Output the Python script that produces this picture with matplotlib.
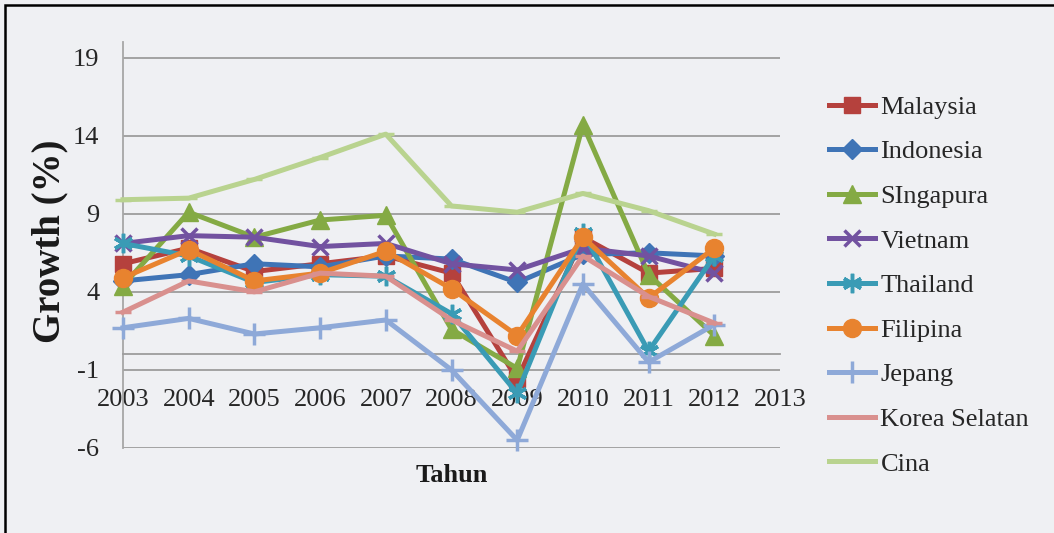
import matplotlib
matplotlib.use("Agg")
import matplotlib.pyplot as plt
import matplotlib.patches as mpatches

plt.rcParams['axes.unicode_minus'] = False

# data
years = [2003, 2004, 2005, 2006, 2007, 2008, 2009, 2010, 2011, 2012]
malaysia  = [5.8, 6.8, 5.3, 5.8, 6.3, 5.2, -1.6, 7.5, 5.2, 5.5]
indonesia = [4.7, 5.1, 5.8, 5.6, 6.3, 6.1, 4.6, 6.4, 6.5, 6.3]
singapura = [4.4, 9.1, 7.5, 8.6, 8.9, 1.6, -0.9, 14.7, 5.1, 1.2]
vietnam   = [7.1, 7.6, 7.5, 6.9, 7.1, 5.8, 5.4, 6.8, 6.3, 5.2]
thailand  = [7.1, 6.3, 4.6, 5.1, 5.0, 2.6, -2.5, 7.8, 0.2, 6.3]
filipina  = [4.9, 6.7, 4.7, 5.2, 6.6, 4.2, 1.2, 7.5, 3.6, 6.8]
jepang    = [1.7, 2.3, 1.3, 1.7, 2.2, -1.0, -5.5, 4.5, -0.5, 1.9]
korea     = [2.7, 4.7, 4.0, 5.2, 5.0, 2.2, 0.2, 6.3, 3.7, 2.0]
cina      = [9.9, 10.0, 11.2, 12.6, 14.1, 9.5, 9.1, 10.3, 9.2, 7.7]

xticks = [2003, 2004, 2005, 2006, 2007, 2008, 2009, 2010, 2011, 2012, 2013]
yticks = [-6, -1, 4, 9, 14, 19]

bg = '#EFF0F3'
serif = ['Liberation Serif', 'DejaVu Serif']

series = [
    ('Malaysia', malaysia, '#B5413D', 's', 11),
    ('Indonesia', indonesia, '#3F74B6', 'D', 10),
    ('SIngapura', singapura, '#84AA44', '^', 13),
    ('Vietnam', vietnam, '#7252A0', 'x', 12),
    ('Thailand', thailand, '#3A9BB5', (6, 2, 0), 14),
    ('Filipina', filipina, '#E8832F', 'o', 13),
    ('Jepang', jepang, '#8EA9D8', '+', 16),
    ('Korea Selatan', korea, '#D9908E', '_', 11),
    ('Cina', cina, '#B9D38F', '_', 11),
]

fig = plt.figure(figsize=(10.54, 5.33), dpi=100, facecolor=bg)
ax = fig.add_axes([123 / 1054, 1 - 448 / 533, (780 - 123) / 1054, (448 - 42) / 533])
ax.set_facecolor(bg)

for i, (name, vals, col, mk, ms) in enumerate(series):
    ax.plot(years, vals, color=col, lw=3.6, marker=mk, markersize=ms,
            markeredgewidth=2.5 if mk in ('x', '+', '_', (6, 2, 0)) else 1,
            markerfacecolor=col, markeredgecolor=col, label=name,
            zorder=3 + i, clip_on=False)

ax.set_xlim(2003, 2013)
ax.set_ylim(-6, 20)
ax.set_xticks(xticks)
ax.set_xticklabels([str(y) for y in xticks])
ax.set_yticks(yticks)

for y in yticks:
    ax.axhline(y, color='#9C9C9C', lw=1.3, zorder=1)

for s in ['top', 'right']:
    ax.spines[s].set_visible(False)
ax.spines['left'].set_color('#A6A6A6')
ax.spines['left'].set_linewidth(1.3)
ax.spines['bottom'].set_position(('data', 0))
ax.spines['bottom'].set_color('#9C9C9C')
ax.spines['bottom'].set_linewidth(1.3)

ax.tick_params(axis='both', length=0, labelsize=19, labelcolor='#262626')
ax.tick_params(axis='y', pad=17)
ax.tick_params(axis='x', pad=25)
for lab in ax.get_xticklabels() + ax.get_yticklabels():
    lab.set_family(serif)

fig.text(50 / 1054, 1 - 241 / 533, 'Growth (%)', rotation=90, ha='center', va='center',
         fontsize=28, fontweight='bold', family=serif, color='#1a1a1a')
fig.text(452 / 1054, 1 - 476 / 533, 'Tahun', ha='center', va='center',
         fontsize=19, fontweight='bold', family=serif, color='#1a1a1a')

fig.legend(loc='center left', bbox_to_anchor=(829 / 1054, 1 - 285.5 / 533),
           frameon=False, borderpad=0, borderaxespad=0,
           handlelength=1.75, handletextpad=0.2, labelspacing=0.8,
           prop={'family': serif, 'size': 19}, labelcolor='#262626')

# outer frame
fig.add_artist(mpatches.Rectangle((5 / 1054, -0.5), 2, 1.5 - 5 / 533,
                                  transform=fig.transFigure, fill=False,
                                  edgecolor='black', lw=1.8, clip_on=False))

fig.savefig('out.png', dpi=100, facecolor=bg)
